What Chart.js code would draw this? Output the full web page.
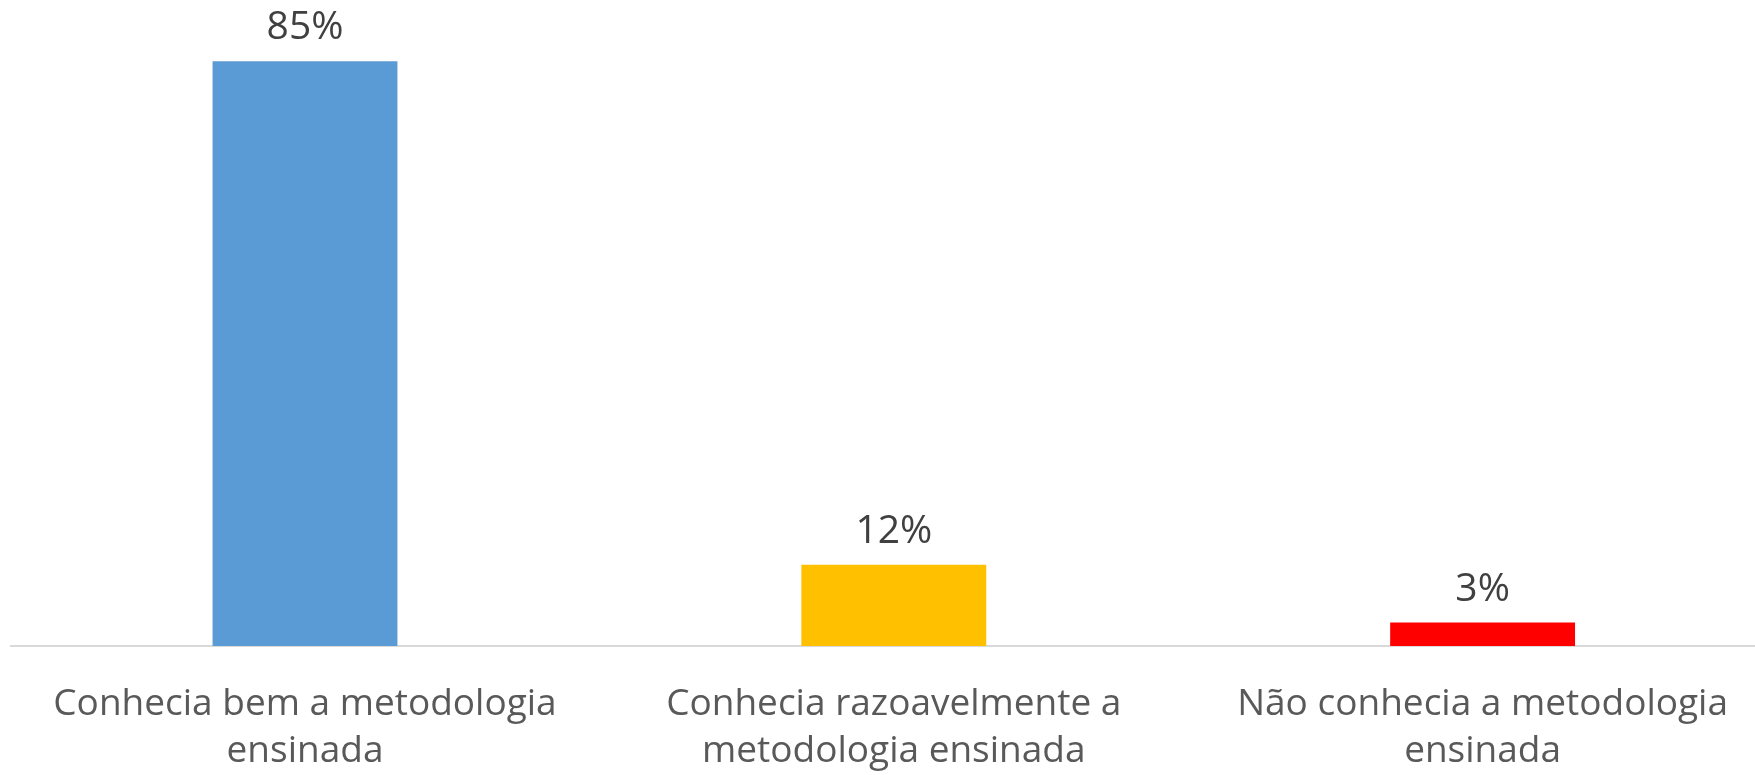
<!DOCTYPE html>
<html>
<head>
<meta charset="utf-8">
<script src="https://cdn.jsdelivr.net/npm/chart.js@4"></script>
<style>
    html, body { margin: 0; padding: 0; background: #ffffff; overflow: hidden; }
    #wrap { width: 1777px; height: 775px; position: relative; }
</style>
</head>
<body>
<div id="wrap"><canvas id="metodologiaChart"></canvas></div>
<script>
// Data
const categories = [
    ['Conhecia bem a metodologia', 'ensinada'],
    ['Conhecia razoavelmente a', 'metodologia ensinada'],
    ['Não conhecia a metodologia', 'ensinada']
];
const percentages = [85, 11.8, 3.4];
const barColors = ['#5b9bd5', '#ffc000', '#ff0000'];
const yMax = 93.9;

const fontFamily = '"Open Sans", "Noto Sans", sans-serif';

// Simple value labels above each bar (rounded like the source, 0% format)
const valueLabels = {
    id: 'valueLabels',
    afterDatasetsDraw(chart) {
        const ctx = chart.ctx;
        const meta = chart.getDatasetMeta(0);
        ctx.save();
        ctx.font = '39px ' + fontFamily;
        ctx.fillStyle = '#404040';
        ctx.textAlign = 'center';
        ctx.textBaseline = 'middle';
        meta.data.forEach((bar, i) => {
            ctx.fillText(Math.round(percentages[i]) + '%', bar.x, bar.y - 33);
        });
        ctx.restore();
    }
};

document.addEventListener('DOMContentLoaded', function() {
    const ctx = document.getElementById('metodologiaChart');
    new Chart(ctx.getContext('2d'), {
        type: 'bar',
        data: {
            labels: categories,
            datasets: [{
                data: percentages,
                backgroundColor: barColors,
                borderWidth: 0,
                barPercentage: 1,
                categoryPercentage: 0.314
            }]
        },
        options: {
            responsive: true,
            maintainAspectRatio: false,
            animation: false,
            layout: {
                padding: { left: 10.6, right: 0, top: 0, bottom: 0 }
            },
            plugins: {
                legend: { display: false },
                tooltip: { enabled: false }
            },
            scales: {
                x: {
                    grid: { display: false, drawTicks: false },
                    border: { display: true, color: '#d9d9d9', width: 2 },
                    afterFit: function(scale) {
                        scale.height = 129;
                    },
                    ticks: {
                        color: '#595959',
                        padding: 35,
                        maxRotation: 0,
                        autoSkip: false,
                        font: { family: fontFamily, size: 37, lineHeight: 1.27 }
                    }
                },
                y: {
                    display: false,
                    min: 0,
                    max: yMax
                }
            }
        },
        plugins: [valueLabels]
    });
});
</script>
</body>
</html>
